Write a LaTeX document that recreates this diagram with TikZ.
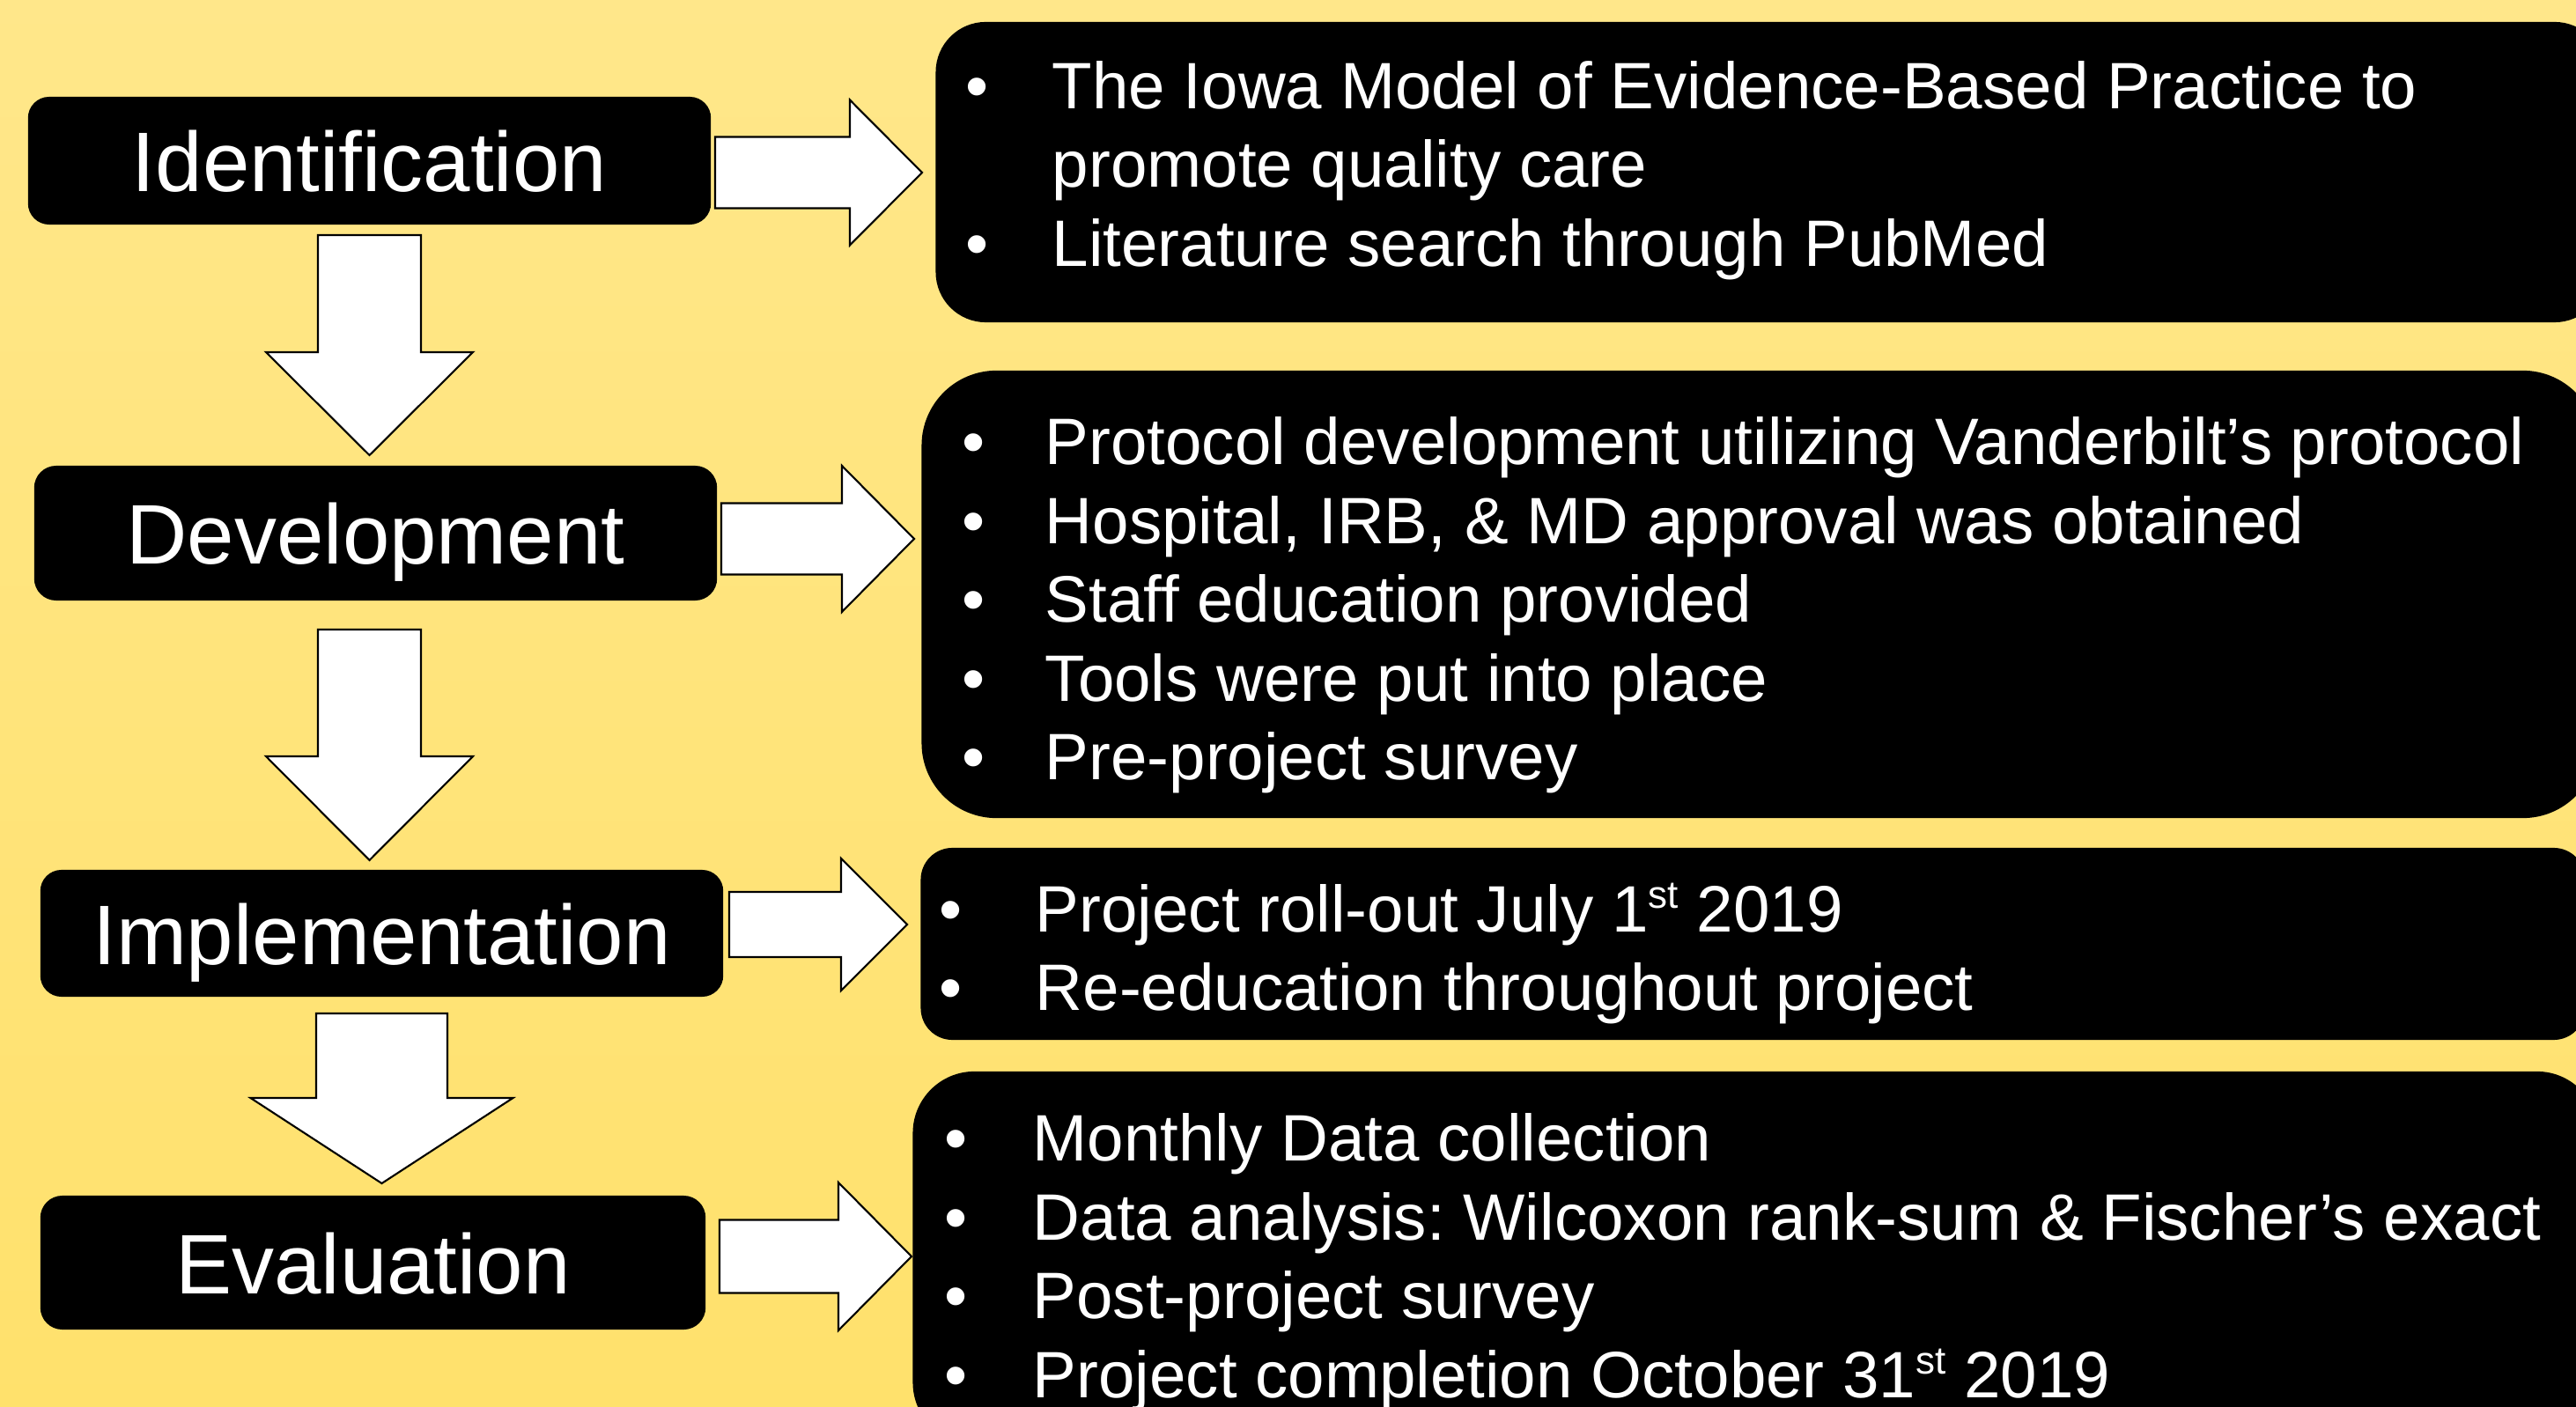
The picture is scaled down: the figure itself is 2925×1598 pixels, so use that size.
\documentclass[tikz,border=0pt]{standalone}
\usepackage{fontspec}
\setmainfont{Liberation Sans}
\frenchspacing
\definecolor{bgtop}{RGB}{255,231,138}
\definecolor{bgbot}{RGB}{255,225,108}

% small raised ordinal suffix
\newcommand\ordsuffix[1]{\raisebox{7.5pt}{\fontsize{12.5pt}{12.5pt}\selectfont #1}}
% block arrow pointing right: tail x, neck x, tip x, centre y, shaft half-width, head half-width
\newcommand\rightblock[6]{%
  \draw[blockarrow] (#1,{#4-#5}) -- (#2,{#4-#5}) -- (#2,{#4-#6}) -- (#3,#4)
    -- (#2,{#4+#6}) -- (#2,{#4+#5}) -- (#1,{#4+#5}) -- cycle;}
% block arrow pointing down: tail y, neck y, tip y, centre x, shaft half-width, head half-width
\newcommand\downblock[6]{%
  \draw[blockarrow] ({#4-#5},#1) -- ({#4+#5},#1) -- ({#4+#5},#2) -- ({#4+#6},#2)
    -- (#4,#3) -- ({#4-#6},#2) -- ({#4-#5},#2) -- cycle;}

\begin{document}
\begin{tikzpicture}[x=0.01cm,y=-0.01cm,
  stage/.style={fill=black, rounded corners=#1, text=white, inner sep=0pt,
    font=\fontsize{27.3pt}{32pt}\selectfont, text height=0.70cm, text depth=0pt},
  detail/.style={fill=black, rounded corners=#1, inner sep=0pt},
  itemtext/.style={text=white, inner sep=0pt, font=\fontsize{21.2pt}{25.5pt}\selectfont},
  bulletmark/.style={itemtext, anchor=base},
  linetext/.style={itemtext, anchor=base west},
  blockarrow/.style={fill=white, draw=black, line width=0.6pt, line join=miter}]

\useasboundingbox (0,0) rectangle (2925,1598);
\clip (0,0) rectangle (2925,1598);
\shade[top color=bgtop, bottom color=bgbot] (0,0) rectangle (2925,1598);

% stage boxes on the left
\node[stage=0.24cm, minimum width=7.75cm, minimum height=1.45cm] (ident) at (419.5,182.5) {Identification};
\node[stage=0.25cm, minimum width=7.75cm, minimum height=1.53cm] (devel) at (426.5,605.5) {Development};
\node[stage=0.24cm, minimum width=7.75cm, minimum height=1.44cm] (impl) at (433.5,1060) {Implementation};
\node[stage=0.25cm, minimum width=7.55cm, minimum height=1.52cm] (evalu) at (423.5,1434) {Evaluation};

% detail boxes on the right
\node[detail=0.57cm, minimum width=18.94cm, minimum height=3.41cm] (d1) at (2010,195.5) {};
\node[detail=0.85cm, minimum width=19.02cm, minimum height=5.08cm] (d2) at (1998,675) {};
\node[detail=0.36cm, minimum width=18.89cm, minimum height=2.18cm] (d3) at (1990.5,1072) {};
\node[detail=0.70cm, minimum width=19.13cm, minimum height=4.23cm] (d4) at (1993.5,1428.5) {};

% arrows from each stage to its details
\rightblock{812}{965}{1047}{196}{40.5}{82.5}
\rightblock{819}{956}{1038}{612}{40.5}{83}
\rightblock{828}{955}{1030}{1050}{37}{75}
\rightblock{817}{952}{1035}{1427}{41.5}{84}

% arrows between stages
\downblock{267}{400}{517}{419.5}{58.5}{117.5}
\downblock{715}{859}{977}{419.5}{58.5}{117.5}
\downblock{1151}{1247}{1344}{433.5}{74.5}{149}

% Identification details
\node[bulletmark] (b1a) at (1110,124) {\textbullet};
\node[linetext]   (t1a) at (1194,124) {The Iowa Model of Evidence-Based Practice to};
\node[linetext]   (t1b) at (1194,213) {promote quality care};
\node[bulletmark] (b1c) at (1110,303) {\textbullet};
\node[linetext]   (t1c) at (1194,303) {Literature search through PubMed};

% Development details
\node[bulletmark] (b2a) at (1106,528) {\textbullet};
\node[linetext]   (t2a) at (1186,528) {Protocol development utilizing Vanderbilt’s protocol};
\node[bulletmark] (b2b) at (1106,618) {\textbullet};
\node[linetext]   (t2b) at (1186,618) {Hospital, IRB, \& MD approval was obtained};
\node[bulletmark] (b2c) at (1106,707) {\textbullet};
\node[linetext]   (t2c) at (1186,707) {Staff education provided};
\node[bulletmark] (b2d) at (1106,797) {\textbullet};
\node[linetext]   (t2d) at (1186,797) {Tools were put into place};
\node[bulletmark] (b2e) at (1106,886) {\textbullet};
\node[linetext]   (t2e) at (1186,886) {Pre-project survey};

% Implementation details
\node[bulletmark] (b3a) at (1080,1058) {\textbullet};
\node[linetext]   (t3a) at (1175,1058) {Project roll-out July 1\ordsuffix{st} 2019};
\node[bulletmark] (b3b) at (1080,1147) {\textbullet};
\node[linetext]   (t3b) at (1175,1147) {Re-education throughout project};

% Evaluation details
\node[bulletmark] (b4a) at (1086,1318) {\textbullet};
\node[linetext]   (t4a) at (1172,1318) {Monthly Data collection};
\node[bulletmark] (b4b) at (1086,1408) {\textbullet};
\node[linetext]   (t4b) at (1172,1408) {Data analysis: Wilcoxon rank-sum \& Fischer’s exact};
\node[bulletmark] (b4c) at (1086,1497) {\textbullet};
\node[linetext]   (t4c) at (1172,1497) {Post-project survey};
\node[bulletmark] (b4d) at (1086,1587) {\textbullet};
\node[linetext]   (t4d) at (1172,1587) {Project completion October 31\ordsuffix{st} 2019};
\end{tikzpicture}
\end{document}
